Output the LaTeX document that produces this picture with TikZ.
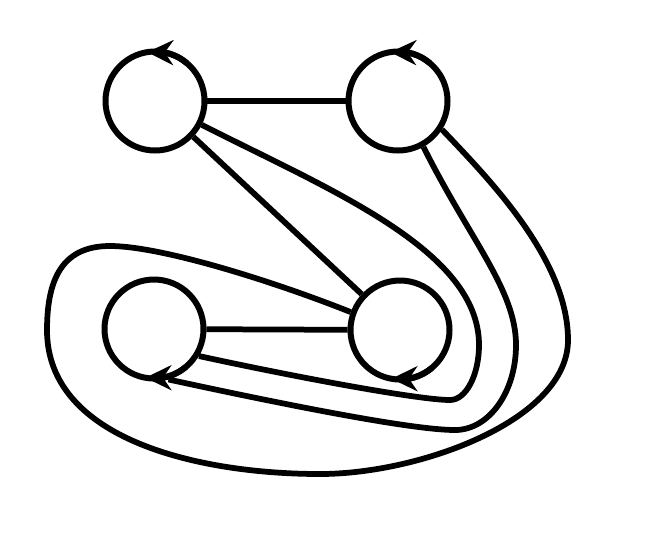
\documentclass[tikz,border=0pt]{standalone}
\usetikzlibrary{arrows.meta,bending}
\tikzset{%
    vertex/.style={%
        circle, draw=black, line width=0.12cm, minimum size=1.98cm, inner sep=0pt
    },
    edge/.style={%
        draw=black, line width=0.115cm
    },
    turn/.style={%
        draw=black, line width=0.12cm, -{Stealth[flex, length=0.52cm, width=0.5cm, inset=0.17cm]}
    },
}

\begin{document}
\begin{tikzpicture}[x=0.02cm, y=-0.02cm]
      \useasboundingbox (0,0) rectangle (665,539);
      \node[vertex] (TL) at (155,101) {};
      \node[vertex] (TR) at (398,101) {};
      \node[vertex] (BL) at (154,329) {};
      \node[vertex] (BR) at (400,330) {};
      \draw[turn] (TL.center) ++(50:0.99cm) arc[start angle=50, end angle=99, radius=0.99cm];
      \draw[turn] (TR.center) ++(50:0.99cm) arc[start angle=50, end angle=99, radius=0.99cm];
      \draw[turn] (BL.center) ++(-50:0.99cm) arc[start angle=-50, end angle=-100, radius=0.99cm];
      \draw[turn] (BR.center) ++(-50:0.99cm) arc[start angle=-50, end angle=-100, radius=0.99cm];
      \draw[edge] (TL) -- (TR);
      \draw[edge] (TL) -- (BR);
      \draw[edge] (BL) -- (BR);
      % round the right of BR
      \draw[edge] (TL.-27) .. controls (330,190) and (479,250) .. (479,345)
            .. controls (479,375) and (466,400) .. (450,400)
            .. controls (420,400) and (300,378) .. (BL.-31);
      \draw[edge] (TR.-61) .. controls (470,240) and (516,290) .. (516,345)
            .. controls (516,392) and (489,430) .. (455,430)
            .. controls (415,430) and (300,408) .. (BL.-74);
      % round everything
      \draw[edge] (TR.-33) .. controls (490,180) and (568,260) .. (568,340)
            .. controls (568,420) and (420,474) .. (320,474)
            .. controls (200,474) and (47,440) .. (47,330)
            .. controls (47,275) and (65,246) .. (110,246)
            .. controls (160,246) and (270,280) .. (BR.160);
\end{tikzpicture}
\end{document}
